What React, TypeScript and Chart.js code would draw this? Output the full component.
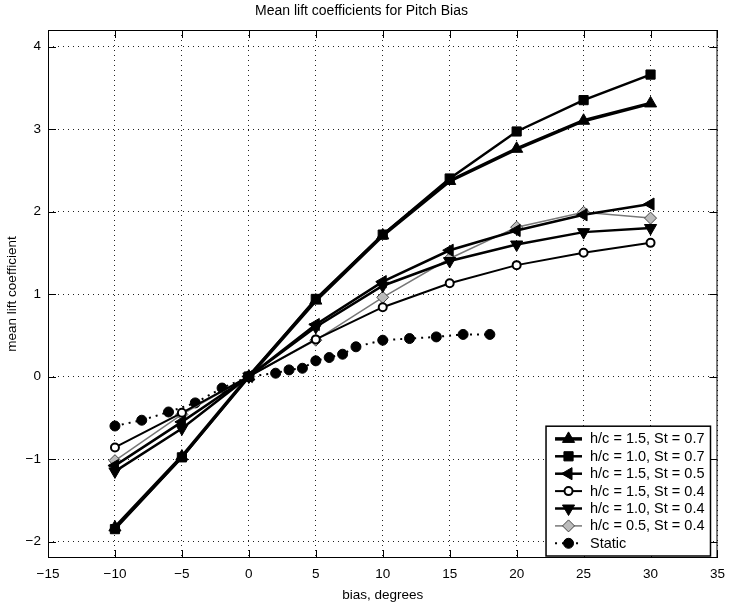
import React, { useEffect, useRef } from 'react';
import { Chart, registerables } from 'chart.js';

Chart.register(...registerables);

// ---- data ----
const biasDeg = [-10, -5, 0, 5, 10, 15, 20, 25, 30];
const hc15St07 = [-1.83, -0.97, 0, 0.92, 1.71, 2.37, 2.76, 3.10, 3.31];
const hc10St07 = [-1.85, -0.98, 0, 0.94, 1.72, 2.40, 2.97, 3.35, 3.66];
const hc15St05 = [-1.08, -0.55, 0, 0.63, 1.15, 1.53, 1.77, 1.96, 2.09];
const hc15St04 = [-0.86, -0.44, 0, 0.45, 0.84, 1.13, 1.35, 1.50, 1.62];
const hc10St04 = [-1.15, -0.63, 0, 0.60, 1.10, 1.40, 1.60, 1.75, 1.80];
const hc05St04 = [-1.02, -0.46, 0, 0.44, 0.96, 1.43, 1.81, 1.99, 1.92];
const staticBias = [-10, -8, -6, -4, -2, 0, 2, 3, 4, 5, 6, 7, 8, 10, 12, 14, 16, 18];
const staticLift = [-0.60, -0.53, -0.43, -0.32, -0.14, 0, 0.04, 0.08, 0.10, 0.19, 0.23, 0.27, 0.36, 0.44, 0.46, 0.48, 0.51, 0.51];
const seriesLabels = [
  'h/c = 1.5, St = 0.7',
  'h/c = 1.0, St = 0.7',
  'h/c = 1.5, St = 0.5',
  'h/c = 1.5, St = 0.4',
  'h/c = 1.0, St = 0.4',
  'h/c = 0.5, St = 0.4',
  'Static',
];
const chartTitle = 'Mean lift coefficients for Pitch Bias';
const xTitle = 'bias, degrees';
const yTitle = 'mean lift coefficient';
const xMin = -15, xMax = 35, xStep = 5;
const yMin = -2.2, yMax = 4.2, yStep = 1;

const FONT = "'Liberation Sans', Arial, Helvetica, sans-serif";

const pts = (xs: number[], ys: number[]) => xs.map((x, i) => ({ x, y: ys[i] }));

function drawMarker(ctx: CanvasRenderingContext2D, ds: any, x: number, y: number) {
  const style = ds.pointStyle;
  const r = ds.pointRadius;
  const rot = ((ds.pointRotation || 0) * Math.PI) / 180;
  ctx.save();
  ctx.fillStyle = ds.pointBackgroundColor;
  ctx.strokeStyle = ds.pointBorderColor;
  ctx.lineWidth = ds.pointBorderWidth;
  ctx.setLineDash([]);
  ctx.beginPath();
  if (style === 'triangle') {
    for (let k = 0; k < 3; k++) {
      const a = rot + (k * 2 * Math.PI) / 3;
      const px = x + Math.sin(a) * r;
      const py = y - Math.cos(a) * r;
      if (k === 0) ctx.moveTo(px, py); else ctx.lineTo(px, py);
    }
    ctx.closePath();
  } else if (style === 'rect') {
    const s = r * Math.SQRT1_2;
    ctx.rect(x - s, y - s, 2 * s, 2 * s);
  } else if (style === 'rectRot') {
    ctx.moveTo(x, y - r);
    ctx.lineTo(x + r, y);
    ctx.lineTo(x, y + r);
    ctx.lineTo(x - r, y);
    ctx.closePath();
  } else {
    ctx.arc(x, y, r, 0, Math.PI * 2);
  }
  ctx.fill();
  if (ctx.lineWidth > 0) ctx.stroke();
  ctx.restore();
}

const framePlugin = {
  id: 'matlabFrame',
  afterDatasetsDraw(chart: any) {
    const { ctx, chartArea: ca } = chart;
    const xs = chart.scales.x;
    const ys = chart.scales.y;
    ctx.save();
    ctx.strokeStyle = '#000';
    ctx.lineWidth = 1;
    ctx.setLineDash([]);
    ctx.strokeRect(ca.left + 0.5, ca.top + 0.5, ca.right - ca.left - 1, ca.bottom - ca.top - 1);
    const tl = 8;
    ctx.beginPath();
    xs.ticks.forEach((t: any) => {
      const px = Math.round(xs.getPixelForValue(t.value)) + 0.5;
      ctx.moveTo(px, ca.bottom);
      ctx.lineTo(px, ca.bottom - tl);
      ctx.moveTo(px, ca.top);
      ctx.lineTo(px, ca.top + tl);
    });
    ys.ticks.forEach((t: any) => {
      const py = Math.round(ys.getPixelForValue(t.value)) + 0.5;
      ctx.moveTo(ca.left, py);
      ctx.lineTo(ca.left + tl, py);
      ctx.moveTo(ca.right, py);
      ctx.lineTo(ca.right - tl, py);
    });
    ctx.stroke();
    ctx.restore();
  },
  afterDraw(chart: any) {
    const { ctx, chartArea: ca } = chart;
    const dsets = chart.data.datasets;
    ctx.save();
    ctx.font = `14.5px ${FONT}`;
    let tw = 0;
    dsets.forEach((d: any) => { tw = Math.max(tw, ctx.measureText(d.label).width); });
    const rowH = 17.4;
    const boxRight = ca.right - 7;
    const boxBottom = ca.bottom - 2;
    const boxW = 44 + tw + 6;
    const boxH = rowH * dsets.length + 8;
    const boxLeft = boxRight - boxW;
    const boxTop = boxBottom - boxH;
    ctx.fillStyle = '#fff';
    ctx.fillRect(boxLeft, boxTop, boxW, boxH);
    ctx.strokeStyle = '#000';
    ctx.lineWidth = 1.5;
    ctx.strokeRect(boxLeft, boxTop, boxW, boxH);
    dsets.forEach((d: any, i: number) => {
      const cy = boxTop + 4 + rowH * (i + 0.5);
      const x0 = boxLeft + 9, x1 = boxLeft + 36;
      ctx.save();
      ctx.strokeStyle = d.borderColor;
      ctx.lineWidth = d.borderWidth;
      ctx.setLineDash(d.borderDash || []);
      ctx.beginPath();
      ctx.moveTo(x0, cy);
      ctx.lineTo(x1, cy);
      ctx.stroke();
      ctx.restore();
      drawMarker(ctx, d, (x0 + x1) / 2, cy);
      ctx.fillStyle = '#000';
      ctx.textAlign = 'left';
      ctx.textBaseline = 'middle';
      ctx.fillText(d.label, boxLeft + 44, cy + 0.5);
    });
    ctx.restore();
  },
};

export default function App() {
  const ref = useRef<HTMLCanvasElement | null>(null);
  useEffect(() => {
    document.body.style.margin = '0';
    if (!ref.current) return;
    const mk = (label: string, data: any, o: any) => ({
      label,
      data,
      borderColor: '#000',
      pointBorderColor: '#000',
      pointBackgroundColor: '#000',
      pointBorderWidth: 1,
      pointRotation: 0,
      borderDash: [],
      tension: 0,
      fill: false,
      ...o,
    });
    const datasets = [
      mk(seriesLabels[0], pts(biasDeg, hc15St07), { borderWidth: 3.5, pointStyle: 'triangle', pointRadius: 7 }),
      mk(seriesLabels[1], pts(biasDeg, hc10St07), { borderWidth: 2.5, pointStyle: 'rect', pointRadius: 6.5 }),
      mk(seriesLabels[2], pts(biasDeg, hc15St05), { borderWidth: 2.5, pointStyle: 'triangle', pointRotation: 270, pointRadius: 7 }),
      mk(seriesLabels[3], pts(biasDeg, hc15St04), { borderWidth: 2, pointStyle: 'circle', pointRadius: 4, pointBackgroundColor: '#fff', pointBorderWidth: 2 }),
      mk(seriesLabels[4], pts(biasDeg, hc10St04), { borderWidth: 2.5, pointStyle: 'triangle', pointRotation: 180, pointRadius: 7 }),
      mk(seriesLabels[5], pts(biasDeg, hc05St04), { borderWidth: 1.5, borderColor: '#777', pointStyle: 'rectRot', pointRadius: 6, pointBackgroundColor: '#bbb', pointBorderColor: '#444', pointBorderWidth: 1 }),
      mk(seriesLabels[6], pts(staticBias, staticLift), { borderWidth: 2, borderDash: [2, 5], pointStyle: 'circle', pointRadius: 5 }),
    ];
    const minus = (v: number) => (v < 0 ? '\u2212' + Math.abs(v) : String(v));
    const chart = new Chart(ref.current, {
      type: 'line',
      data: { datasets },
      plugins: [framePlugin],
      options: {
        animation: false,
        responsive: false,
        layout: { padding: { right: 10, left: 0, top: 0, bottom: 0 } },
        plugins: {
          legend: { display: false },
          tooltip: { enabled: false },
          title: {
            display: true,
            text: chartTitle,
            color: '#000',
            font: { family: FONT, size: 14, weight: 'normal' },
            padding: { top: 3, bottom: 10.2 },
          },
        },
        scales: {
          x: {
            type: 'linear',
            min: xMin,
            max: xMax,
            afterFit: (s: any) => { s.height = 49; },
            ticks: {
              stepSize: xStep,
              color: '#000',
              padding: 8,
              maxRotation: 0,
              font: { family: FONT, size: 13.5 },
              callback: (v: any) => minus(Number(v)),
            },
            grid: { color: '#222', lineWidth: 1, drawTicks: false },
            border: { display: false, dash: [1, 4] },
            title: {
              display: true,
              text: xTitle,
              color: '#000',
              font: { family: FONT, size: 13.5 },
              padding: { top: 4, bottom: 4 },
            },
          },
          y: {
            type: 'linear',
            min: yMin,
            max: yMax,
            afterFit: (s: any) => { s.width = 48; },
            ticks: {
              stepSize: yStep,
              includeBounds: false,
              color: '#000',
              padding: 7,
              font: { family: FONT, size: 13.5 },
              callback: (v: any) => minus(Number(v)),
            },
            grid: { color: '#222', lineWidth: 1, drawTicks: false },
            border: { display: false, dash: [1, 4] },
            title: {
              display: true,
              text: yTitle,
              color: '#000',
              font: { family: FONT, size: 13.5 },
              padding: { top: 4, bottom: 4 },
            },
          },
        },
      } as any,
    });
    return () => chart.destroy();
  }, []);
  return (
    <div style={{ width: 733, height: 607, background: '#fff' }}>
      <canvas ref={ref} width={733} height={607} style={{ display: 'block' }} />
    </div>
  );
}
